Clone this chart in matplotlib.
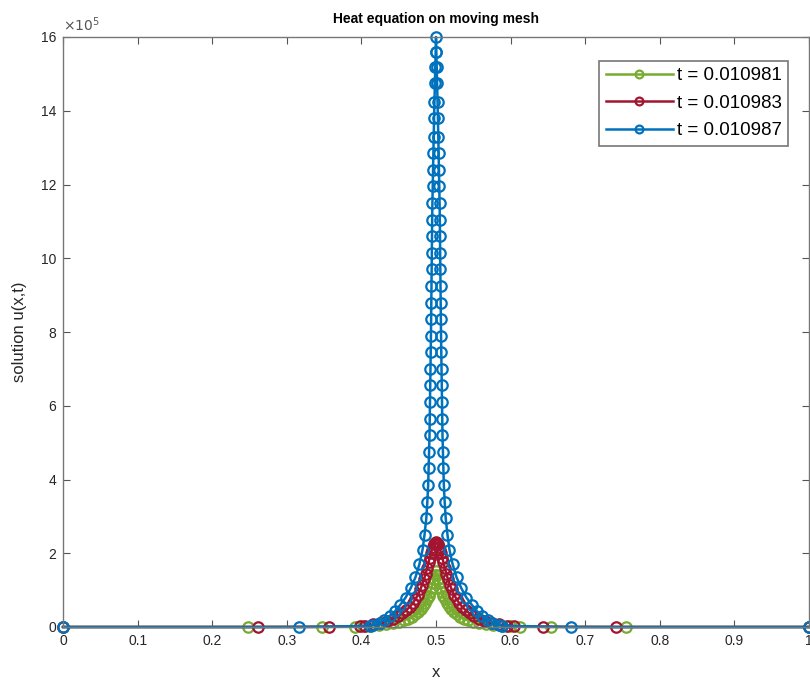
import matplotlib.pyplot as plt
import matplotlib as mpl

mpl.rcParams.update({'font.family': ['Liberation Sans', 'DejaVu Sans'], 'font.size': 10})

# values, u in units of 1e5
x_green = [0, 0.248, 0.347, 0.391, 0.402, 0.413, 0.423, 0.433, 0.442, 0.45, 0.457, 0.463,
           0.468, 0.4725, 0.4765, 0.48, 0.4828, 0.4855, 0.488, 0.4902, 0.4922, 0.494, 0.4955,
           0.497, 0.4985, 0.5,
           0.5015, 0.503, 0.5045, 0.506, 0.5078, 0.5098, 0.512, 0.5145, 0.5172, 0.52, 0.5235,
           0.5275, 0.532, 0.537, 0.543, 0.55, 0.558, 0.567, 0.577, 0.588, 0.599, 0.612, 0.654,
           0.755, 1.0]
u_green = [0, 0, 0.002, 0.008, 0.018, 0.03, 0.05, 0.075, 0.105, 0.14, 0.18, 0.225,
           0.28, 0.34, 0.41, 0.48, 0.56, 0.65, 0.75, 0.85, 0.96, 1.07, 1.18,
           1.3, 1.42, 1.52,
           1.42, 1.3, 1.18, 1.07, 0.96, 0.85, 0.75, 0.65, 0.56, 0.48, 0.41,
           0.34, 0.28, 0.225, 0.18, 0.14, 0.105, 0.075, 0.05, 0.03, 0.018, 0.008, 0.002,
           0, 0]

x_red = [0, 0.261, 0.357, 0.398, 0.405, 0.415, 0.425, 0.434, 0.442, 0.449, 0.455, 0.46,
         0.465, 0.469, 0.4725, 0.476, 0.479, 0.4815, 0.484, 0.4862, 0.4882, 0.49, 0.4915,
         0.493, 0.4945, 0.496, 0.4975, 0.4988, 0.5,
         0.5012, 0.5025, 0.504, 0.5055, 0.507, 0.5085, 0.51, 0.5118, 0.5138, 0.516, 0.5185,
         0.521, 0.524, 0.5275, 0.531, 0.535, 0.54, 0.545, 0.551, 0.558, 0.566, 0.575,
         0.585, 0.595, 0.605, 0.643, 0.741, 1.0]
u_red = [0, 0, 0.005, 0.02, 0.04, 0.07, 0.11, 0.16, 0.22, 0.29, 0.37, 0.45,
         0.55, 0.65, 0.76, 0.88, 1.02, 1.15, 1.3, 1.45, 1.6, 1.75, 1.88,
         2.0, 2.1, 2.18, 2.24, 2.28, 2.3,
         2.28, 2.24, 2.18, 2.1, 2.0, 1.88, 1.75, 1.6, 1.45, 1.3, 1.15,
         1.02, 0.88, 0.76, 0.65, 0.55, 0.45, 0.37, 0.29, 0.22, 0.16, 0.11,
         0.07, 0.04, 0.02, 0.005, 0, 0]

x_blue = [0, 0.317, 0.411, 0.415, 0.425, 0.4309, 0.4383, 0.4452, 0.452, 0.4593, 0.466,
          0.4725, 0.4777, 0.482, 0.4846, 0.487, 0.4884, 0.4895, 0.4901, 0.4907, 0.4913,
          0.49162, 0.49194, 0.49226, 0.49259, 0.49291, 0.49323, 0.49348, 0.49371, 0.49394,
          0.49418, 0.49441, 0.49464, 0.49487, 0.49519, 0.49562, 0.49605, 0.49649, 0.49692,
          0.49742, 0.49795, 0.49853, 0.49906, 0.49953, 0.5,
          0.50047, 0.50094, 0.50147, 0.50205, 0.50258, 0.50308, 0.50351, 0.50395, 0.50438,
          0.50481, 0.50513, 0.50536, 0.50559, 0.50582, 0.50606, 0.50629, 0.50652, 0.50677,
          0.50709, 0.50741, 0.50774, 0.50806, 0.50838, 0.5087, 0.5093, 0.5099, 0.5105,
          0.5116, 0.513, 0.5154, 0.518, 0.5223, 0.5275, 0.534, 0.5407, 0.548, 0.5548,
          0.5617, 0.5691, 0.575, 0.585, 0.589, 0.681, 1.0]
u_blue = [0, 0, 0.03, 0.06, 0.12, 0.2, 0.3, 0.43, 0.6, 0.8, 1.05,
          1.35, 1.7, 2.1, 2.5, 2.95, 3.4, 3.85, 4.3, 4.75, 5.2,
          5.65, 6.1, 6.55, 7.0, 7.45, 7.9, 8.35, 8.8, 9.25,
          9.7, 10.15, 10.6, 11.05, 11.5, 11.95, 12.4, 12.85, 13.3,
          13.8, 14.25, 14.75, 15.2, 15.6, 16.0,
          15.6, 15.2, 14.75, 14.25, 13.8, 13.3, 12.85, 12.4, 11.95,
          11.5, 11.05, 10.6, 10.15, 9.7, 9.25, 8.8, 8.35, 7.9,
          7.45, 7.0, 6.55, 6.1, 5.65, 5.2, 4.75, 4.3, 3.85,
          3.4, 2.95, 2.5, 2.1, 1.7, 1.35, 1.05, 0.8, 0.6, 0.43,
          0.3, 0.2, 0.12, 0.06, 0.03, 0, 0]

labels = ['t = 0.010981', 't = 0.010983', 't = 0.010987']
colors = ['#77AC30', '#A2142F', '#0072BD']

fig = plt.figure(figsize=(8.1, 6.8), dpi=100)
ax = fig.add_axes([63/810, 53/680, 746/810, 590/680])

for xs, us, c, lab in zip([x_green, x_red, x_blue], [u_green, u_red, u_blue], colors, labels):
    ax.plot(xs, us, '-o', color=c, lw=1.8, ms=7.5, mfc='none', mew=1.6,
            label=lab, clip_on=False)

ax.set_xlim(0, 1)
ax.set_ylim(0, 16)
ax.set_xticks([i/10 for i in range(11)])
ax.set_xticklabels(['0', '0.1', '0.2', '0.3', '0.4', '0.5', '0.6', '0.7', '0.8', '0.9', '1'])
ax.set_yticks(range(0, 17, 2))
ax.tick_params(direction='in', top=True, right=True, length=5, width=0.8,
               colors='#555555', labelcolor='#262626', labelsize=10, pad=5)
for s in ax.spines.values():
    s.set_color('#777777')
    s.set_linewidth(1.0)

ax.set_xlabel('x', fontsize=12, color='#262626', labelpad=12)
ax.set_ylabel('solution u(x,t)', fontsize=12, color='#262626', labelpad=10)
ax.set_title('Heat equation on moving mesh', fontsize=10, fontweight='bold', pad=10)
ax.text(0.0, 1.005, r'$\times10^5$', transform=ax.transAxes, fontsize=10,
        color='#555555', ha='left', va='bottom')

leg = ax.legend(loc='upper right', bbox_to_anchor=(0.985, 0.976), fontsize=13.5,
                fancybox=False, framealpha=1, edgecolor='#777777', handlelength=3.6,
                handletextpad=0.2, borderpad=0.35, labelspacing=0.55, markerscale=0.75)
leg.get_frame().set_linewidth(1.2)

fig.savefig('out.png', dpi=100)
